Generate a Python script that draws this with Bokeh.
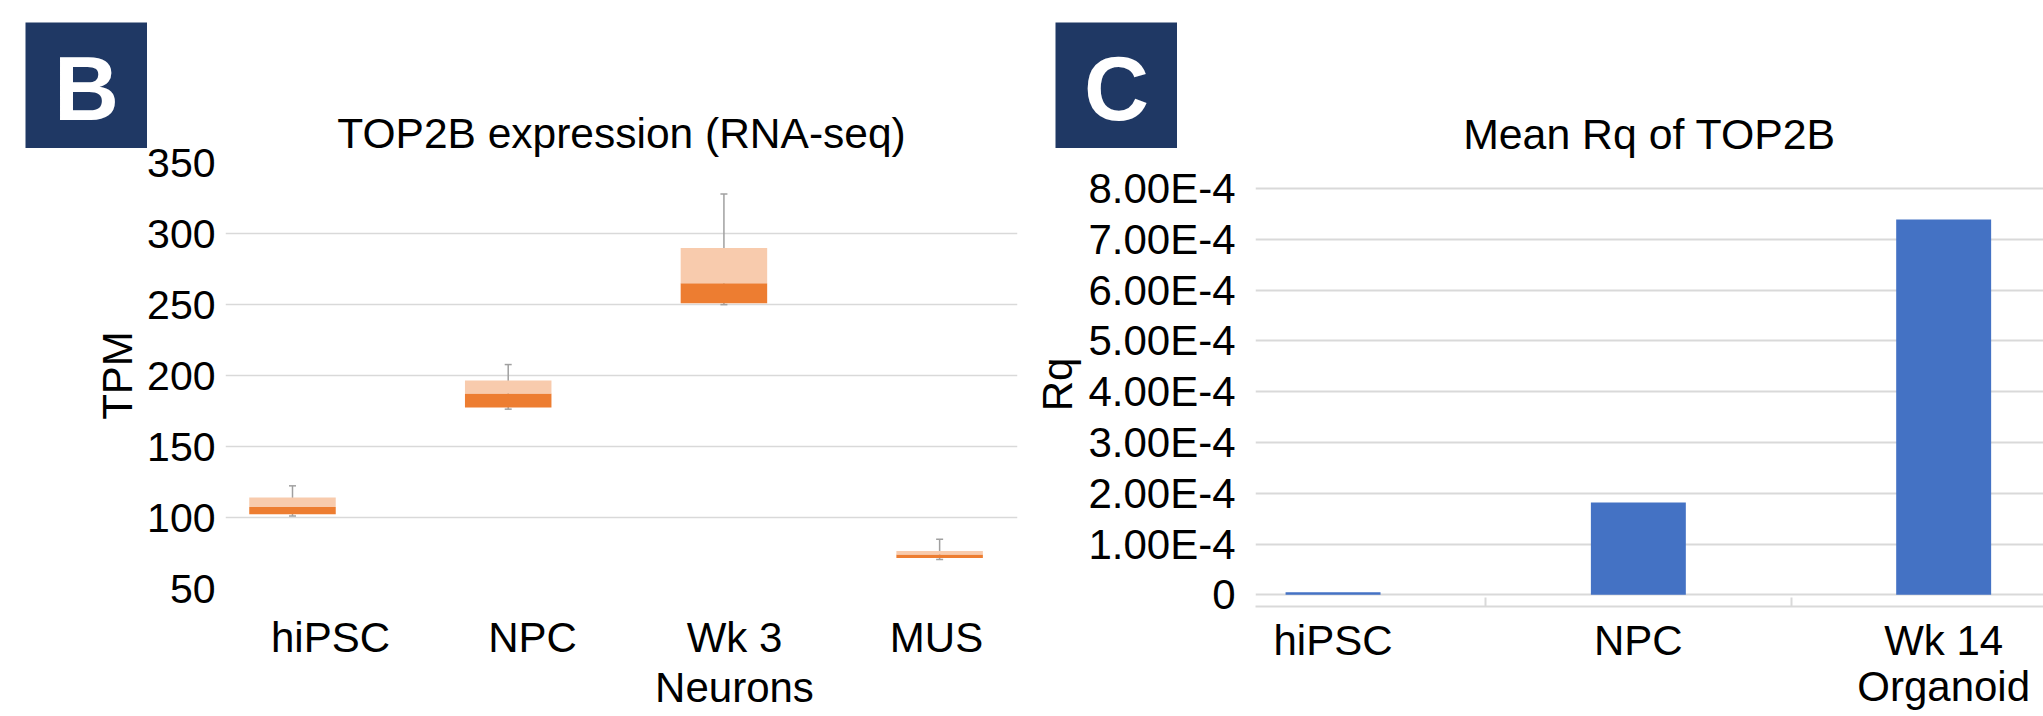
from bokeh.plotting import figure
from bokeh.models import (Range1d, LinearAxis, FixedTicker, SingleIntervalTicker,
                          CustomJSTickFormatter, GridBox)
from bokeh.core.properties import value
from bokeh.embed import file_html
from bokeh.resources import INLINE

# ---------------- Panel B: TOP2B expression (RNA-seq) ----------------
b_categories = ["hiPSC", "NPC", "Wk 3\nNeurons", "MUS"]
b_min = [101.1, 176.3, 249.9, 70.4]
b_q1 = [102.3, 177.5, 250.8, 71.5]
b_median = [107.4, 187.3, 264.9, 73.9]
b_q3 = [114.0, 196.5, 289.8, 76.4]
b_max = [122.3, 207.7, 327.8, 84.7]

# ---------------- Panel C: Mean Rq of TOP2B ----------------
c_categories = ["hiPSC", "NPC", "Wk 14\nOrganoid"]
c_rq = [0.000005, 0.000182, 0.000739]

FONT = "Liberation Sans"
TXT = "#000000"
GRID = "#D9D9D9"
NAVY = "#1F3864"


def style_title(p, standoff, size):
    p.title.align = "center"
    p.title.text_font = FONT
    p.title.text_font_size = size
    p.title.text_font_style = "normal"
    p.title.text_color = TXT
    p.title.standoff = standoff


def category_axes(p, cats, standoff1, standoff2, range_name="default"):
    """Two stacked axes: first and second line of each category label."""
    ticks = list(range(len(cats)))
    lines = [c.split("\n") for c in cats]
    for k, so in ((0, standoff1), (1, standoff2)):
        ax = LinearAxis(x_range_name=range_name, ticker=FixedTicker(ticks=ticks),
                        major_label_overrides={i: (l[k] if len(l) > k else "")
                                               for i, l in enumerate(lines)})
        ax.axis_line_color = None
        ax.major_tick_line_color = None
        ax.minor_tick_line_color = None
        ax.major_tick_out = 0
        ax.major_tick_in = 0
        ax.major_label_standoff = so
        ax.major_label_text_font = FONT
        ax.major_label_text_font_size = "42px"
        ax.major_label_text_color = TXT
        p.add_layout(ax, "below")
    return p.below


def letter_box(letter, left, top):
    f = figure(width=left + 122, height=top + 126, output_backend="svg",
               toolbar_location=None, x_range=Range1d(0, 1), y_range=Range1d(0, 1),
               x_axis_location=None, y_axis_location=None,
               min_border_left=left, min_border_top=top,
               min_border_right=0, min_border_bottom=0, frame_align=False)
    f.grid.visible = False
    f.outline_line_color = None
    f.background_fill_color = NAVY
    f.border_fill_alpha = 0
    f.text(x=[0.5], y=[0.5], text=[letter], text_align="center", text_baseline="middle",
           y_offset=3, text_font=value(FONT), text_font_size="90px",
           text_font_style="bold", text_color="white")
    return f


# ================= Left figure =================
bx = list(range(len(b_categories)))
p1 = figure(width=1030, height=716, output_backend="svg", toolbar_location=None,
            x_range=Range1d(-0.3106, 3.361), y_range=Range1d(50, 350),
            x_axis_location=None, title="TOP2B expression (RNA-seq)",
            min_border_left=225, min_border_right=13, min_border_top=162,
            min_border_bottom=128, frame_align=False)
p1.outline_line_color = None
style_title(p1, 11, "42.5px")

p1.segment(x0=bx, y0=b_min, x1=bx, y1=b_max, line_color="#A0A0A0", line_width=1.5)
p1.scatter(bx, b_max, marker="dash", size=7, line_color="#A0A0A0", line_width=1.5)
p1.scatter(bx, b_min, marker="dash", size=7, line_color="#A0A0A0", line_width=1.5)
p1.vbar(x=bx, width=0.401, bottom=b_q1, top=b_median, fill_color="#ED7D31", line_color=None)
p1.vbar(x=bx, width=0.401, bottom=b_median, top=b_q3, fill_color="#F8CBAD", line_color=None)

ya = p1.yaxis[0]
ya.ticker = SingleIntervalTicker(interval=50, num_minor_ticks=0)
ya.axis_line_color = None
ya.major_tick_line_color = None
ya.minor_tick_line_color = None
ya.major_tick_out = 0
ya.major_tick_in = 0
ya.major_label_standoff = 10
ya.major_label_text_font = FONT
ya.major_label_text_font_size = "41px"
ya.major_label_text_color = TXT
ya.axis_label = "TPM"
ya.axis_label_text_font = FONT
ya.axis_label_text_font_size = "42px"
ya.axis_label_text_font_style = "normal"
ya.axis_label_text_color = TXT
ya.axis_label_standoff = 3
p1.ygrid.grid_line_color = GRID
p1.ygrid.grid_line_width = 1.5
p1.xgrid.visible = False

p1.extra_x_ranges = {"lab": Range1d(-0.5198, 3.401)}
category_axes(p1, b_categories, 25, 0, range_name="lab")

# ================= Right figure =================
cx = list(range(len(c_categories)))
p2 = figure(width=1013, height=716, output_backend="svg", toolbar_location=None,
            x_range=Range1d(-0.254, 2.327), y_range=Range1d(-0.000023, 0.0008512),
            x_axis_location=None, title="Mean Rq of TOP2B",
            min_border_left=225, min_border_right=0, min_border_top=162,
            min_border_bottom=110, frame_align=False)
p2.outline_line_color = None
style_title(p2, 9, "42.8px")

p2.vbar(x=cx, width=0.311, bottom=0, top=c_rq, fill_color="#4472C4", line_color=None)

ya2 = p2.yaxis[0]
ya2.ticker = SingleIntervalTicker(interval=0.0001, num_minor_ticks=0)
ya2.formatter = CustomJSTickFormatter(
    code="return Math.abs(tick) < 1e-12 ? '0' : tick.toExponential(2).replace('e', 'E');")
ya2.axis_line_color = None
ya2.major_tick_line_color = None
ya2.minor_tick_line_color = None
ya2.major_tick_out = 0
ya2.major_tick_in = 0
ya2.major_label_standoff = 20
ya2.major_label_text_font = FONT
ya2.major_label_text_font_size = "42px"
ya2.major_label_text_color = TXT
ya2.axis_label = "Rq"
ya2.axis_label_text_font = FONT
ya2.axis_label_text_font_size = "42px"
ya2.axis_label_text_font_style = "normal"
ya2.axis_label_text_color = TXT
ya2.axis_label_standoff = 4
p2.ygrid.grid_line_color = GRID
p2.ygrid.grid_line_width = 2
p2.xgrid.visible = False

axes2 = category_axes(p2, c_categories, 10, -4)
sep = axes2[0]
sep.ticker = FixedTicker(ticks=cx, minor_ticks=[i + 0.5 for i in cx[:-1]])
sep.axis_line_color = GRID
sep.axis_line_width = 2
sep.minor_tick_line_color = GRID
sep.minor_tick_line_width = 2
sep.minor_tick_in = 9
sep.minor_tick_out = 0

bbox = letter_box("B", 25, 22)
cbox = letter_box("C", 25, 22)

layout = GridBox(children=[(p1, 0, 0), (bbox, 0, 0), (p2, 0, 1), (cbox, 0, 1)], spacing=0)
open("out.html", "w").write(file_html(layout, INLINE))
